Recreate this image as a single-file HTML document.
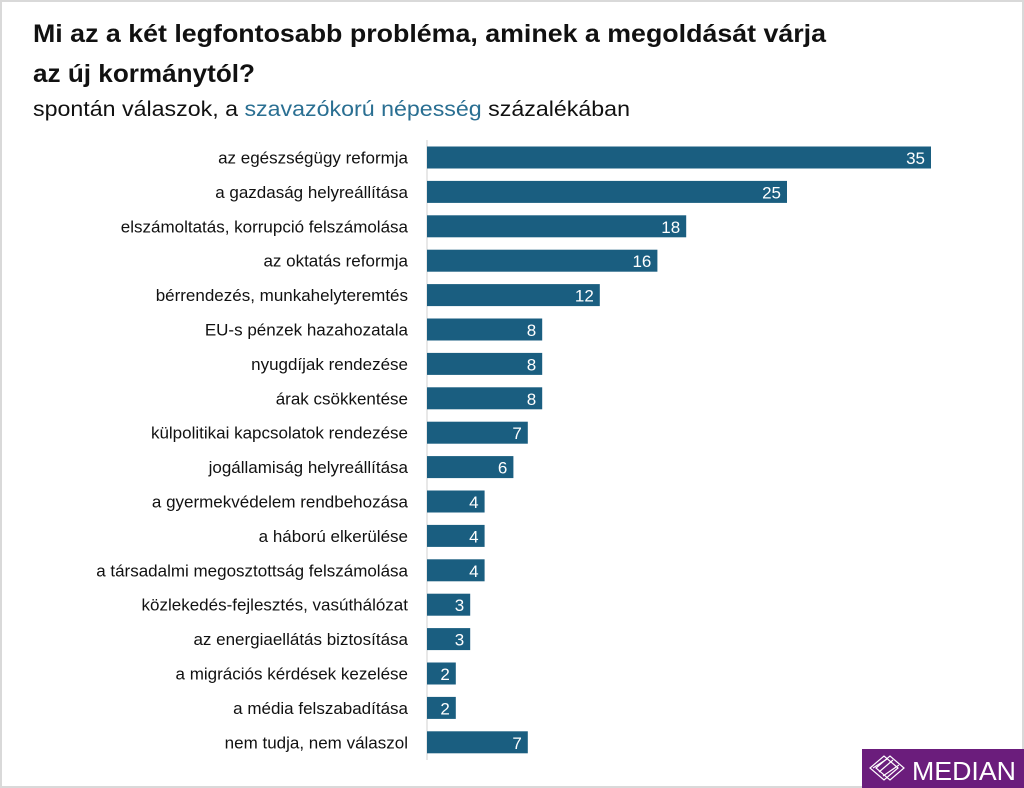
<!DOCTYPE html>
<html><head><meta charset="utf-8"><style>
html,body{margin:0;padding:0;background:#fff}
svg{display:block}
text{font-family:"Liberation Sans","DejaVu Sans",sans-serif}
.l{font-size:17px;fill:#111;text-anchor:end}
.v{font-size:17px;fill:#fff;text-anchor:end}
.b{fill:#1a5e80}
</style></head><body>
<svg width="1024" height="788" viewBox="0 0 1024 788" xmlns="http://www.w3.org/2000/svg">
<rect x="1" y="1" width="1022" height="786" fill="#fff" stroke="#d9d9d9" stroke-width="2"/>
<text x="33" y="42" font-size="25" font-weight="bold" fill="#111" textLength="793" lengthAdjust="spacingAndGlyphs">Mi az a két legfontosabb probléma, aminek a megoldását várja</text>
<text x="33" y="82" font-size="25" font-weight="bold" fill="#111" textLength="222" lengthAdjust="spacingAndGlyphs">az új kormánytól?</text>
<text x="33" y="116" font-size="21" fill="#111" textLength="597" lengthAdjust="spacingAndGlyphs">spontán válaszok, a <tspan fill="#2a6f92">szavazókorú népesség</tspan> százalékában</text>
<line x1="427" y1="140" x2="427" y2="760" stroke="#d0d0d0" stroke-width="1"/>

<rect class="b" x="427" y="146.5" width="504" height="22"/><text class="l" x="408" y="163.5">az egészségügy reformja</text><text class="v" x="925" y="164">35</text>
<rect class="b" x="427" y="180.9" width="360" height="22"/><text class="l" x="408" y="197.9">a gazdaság helyreállítása</text><text class="v" x="781" y="198.4">25</text>
<rect class="b" x="427" y="215.3" width="259.2" height="22"/><text class="l" x="408" y="232.3">elszámoltatás, korrupció felszámolása</text><text class="v" x="680.2" y="232.8">18</text>
<rect class="b" x="427" y="249.7" width="230.4" height="22"/><text class="l" x="408" y="266.7">az oktatás reformja</text><text class="v" x="651.4" y="267.2">16</text>
<rect class="b" x="427" y="284.1" width="172.8" height="22"/><text class="l" x="408" y="301.1">bérrendezés, munkahelyteremtés</text><text class="v" x="593.8" y="301.6">12</text>
<rect class="b" x="427" y="318.5" width="115.2" height="22"/><text class="l" x="408" y="335.5">EU-s pénzek hazahozatala</text><text class="v" x="536.2" y="336">8</text>
<rect class="b" x="427" y="352.9" width="115.2" height="22"/><text class="l" x="408" y="369.9">nyugdíjak rendezése</text><text class="v" x="536.2" y="370.4">8</text>
<rect class="b" x="427" y="387.3" width="115.2" height="22"/><text class="l" x="408" y="404.3">árak csökkentése</text><text class="v" x="536.2" y="404.8">8</text>
<rect class="b" x="427" y="421.7" width="100.8" height="22"/><text class="l" x="408" y="438.7">külpolitikai kapcsolatok rendezése</text><text class="v" x="521.8" y="439.2">7</text>
<rect class="b" x="427" y="456.1" width="86.4" height="22"/><text class="l" x="408" y="473.1">jogállamiság helyreállítása</text><text class="v" x="507.4" y="473.6">6</text>
<rect class="b" x="427" y="490.5" width="57.6" height="22"/><text class="l" x="408" y="507.5">a gyermekvédelem rendbehozása</text><text class="v" x="478.6" y="508">4</text>
<rect class="b" x="427" y="524.9" width="57.6" height="22"/><text class="l" x="408" y="541.9">a háború elkerülése</text><text class="v" x="478.6" y="542.4">4</text>
<rect class="b" x="427" y="559.3" width="57.6" height="22"/><text class="l" x="408" y="576.3">a társadalmi megosztottság felszámolása</text><text class="v" x="478.6" y="576.8">4</text>
<rect class="b" x="427" y="593.7" width="43.2" height="22"/><text class="l" x="408" y="610.7">közlekedés-fejlesztés, vasúthálózat</text><text class="v" x="464.2" y="611.2">3</text>
<rect class="b" x="427" y="628.1" width="43.2" height="22"/><text class="l" x="408" y="645.1">az energiaellátás biztosítása</text><text class="v" x="464.2" y="645.6">3</text>
<rect class="b" x="427" y="662.5" width="28.8" height="22"/><text class="l" x="408" y="679.5">a migrációs kérdések kezelése</text><text class="v" x="449.8" y="680">2</text>
<rect class="b" x="427" y="696.9" width="28.8" height="22"/><text class="l" x="408" y="713.9">a média felszabadítása</text><text class="v" x="449.8" y="714.4">2</text>
<rect class="b" x="427" y="731.3" width="100.8" height="22"/><text class="l" x="408" y="748.3">nem tudja, nem válaszol</text><text class="v" x="521.8" y="748.8">7</text>

<rect x="862" y="749" width="162" height="39" fill="#6b1d7c"/>
<g fill="none" stroke="#fff" stroke-width="1.2">
<path d="M870 768 L884 756 L898 768 L884 780 Z"/>
<path d="M876 768 L890 756 L904 768 L890 780 Z"/>
<path d="M873 768 L887 759 M879 772 L893 760 M883 776 L899 765"/>
</g>
<text x="912" y="780" font-size="26" fill="#fff" textLength="104" lengthAdjust="spacingAndGlyphs">MEDIAN</text>
</svg>
</body></html>
